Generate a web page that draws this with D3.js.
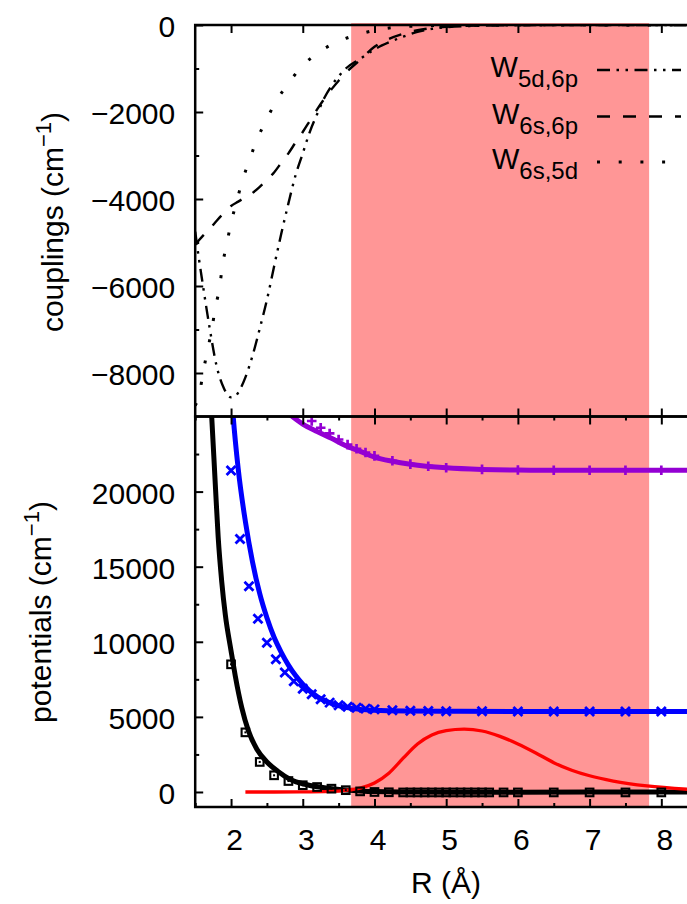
<!DOCTYPE html>
<html>
<head>
<meta charset="utf-8">
<script src="https://cdn.jsdelivr.net/npm/d3@7"></script>
<style>
  html, body { margin: 0; padding: 0; background: #fff; }
  svg { display: block; }
</style>
</head>
<body>
<svg id="chart" width="687" height="904"></svg>
<script>
// ---- Couplings W (cm^-1) as a function of R (Å) ----
const w5d6pR = [1.5, 1.55, 1.6, 1.7, 1.8, 1.9, 2.0, 2.05, 2.1, 2.2, 2.3, 2.4, 2.5, 2.6, 2.7, 2.8, 2.9, 3.0, 3.1, 3.2, 3.3, 3.4, 3.5, 3.6, 3.8, 4.0, 4.2, 4.4, 4.6, 4.8, 5.0, 5.5, 6.0, 7.0, 8.4];
const w5d6pV = [-4750, -5350, -5900, -6950, -7850, -8350, -8560, -8550, -8450, -8100, -7600, -6980, -6320, -5550, -4800, -4100, -3450, -2950, -2450, -2050, -1680, -1400, -1180, -1000, -780, -560, -400, -270, -160, -90, -50, -15, -5, 0, 0];

const w6s6pR = [1.5, 1.6, 1.7, 1.8, 1.9, 2.0, 2.1, 2.2, 2.3, 2.4, 2.5, 2.6, 2.7, 2.8, 2.9, 3.0, 3.1, 3.2, 3.3, 3.4, 3.5, 3.6, 3.8, 4.0, 4.2, 4.4, 4.6, 4.8, 5.0, 5.5, 6.0, 7.0, 8.4];
const w6s6pV = [-5050, -4860, -4690, -4500, -4320, -4160, -4060, -3960, -3860, -3720, -3560, -3390, -3170, -2950, -2700, -2460, -2200, -1940, -1700, -1480, -1280, -1100, -800, -500, -320, -200, -120, -70, -40, -12, -4, 0, 0];

const w6s5dR = [1.5, 1.56, 1.61, 1.67, 1.73, 1.78, 1.84, 1.88, 1.94, 2.0, 2.08, 2.15, 2.26, 2.36, 2.49, 2.63, 2.8, 2.99, 3.22, 3.49, 3.77, 4.03, 4.5, 5.0, 6.0, 8.4];
const w6s5dV = [-8750, -8470, -7990, -7490, -7010, -6510, -6030, -5530, -5030, -4550, -4050, -3620, -3090, -2640, -2190, -1750, -1340, -950, -630, -380, -220, -115, -30, -10, 0, 0];

// ---- Potentials (cm^-1) ----
// ground state: fitted curve and ab initio points
const groundR = [1.68, 1.73, 1.78, 1.82, 1.87, 1.92, 2.0, 2.06, 2.15, 2.24, 2.36, 2.5, 2.66, 2.82, 3.06, 3.3, 3.55, 3.8, 4.0, 4.5, 5.0, 6.0, 7.0, 8.4];
const groundV = [29000, 25000, 20500, 17000, 14000, 11800, 9400, 7700, 5600, 4100, 2850, 2000, 1350, 850, 480, 280, 150, 70, 30, 0, -20, -10, 0, 0];
const groundPtsR = [2.0, 2.2, 2.4, 2.6, 2.8, 3.0, 3.2, 3.4, 3.6, 3.8, 4.0, 4.2, 4.4, 4.5, 4.6, 4.7, 4.8, 4.9, 5.0, 5.1, 5.2, 5.3, 5.4, 5.5, 5.6, 5.8, 6.0, 6.5, 7.0, 7.5, 8.0];
const groundPtsV = [8500, 3970, 2000, 1110, 730, 450, 330, 220, 120, 40, 0, -20, -30, -30, -30, -30, -30, -30, -30, -30, -30, -30, -30, -30, -30, -30, -30, -30, -30, -30, -30];

// first excited state
const excR = [2.0, 2.03, 2.1, 2.2, 2.3, 2.4, 2.5, 2.6, 2.7, 2.8, 2.9, 3.0, 3.2, 3.4, 3.6, 3.8, 4.0, 4.5, 5.0, 6.0, 7.0, 8.4];
const excV = [27000, 25000, 21500, 18000, 15300, 13200, 11600, 10300, 9300, 8450, 7750, 7180, 6350, 5900, 5630, 5500, 5440, 5390, 5375, 5365, 5360, 5360];
const excPtsR = [2.0, 2.125, 2.25, 2.375, 2.5, 2.625, 2.75, 2.875, 3.0, 3.125, 3.25, 3.375, 3.5, 3.625, 3.75, 3.875, 4.0, 4.25, 4.5, 4.75, 5.0, 5.5, 6.0, 6.5, 7.0, 7.5, 8.0];
const excPtsV = [21400, 16850, 13700, 11540, 9940, 8830, 7950, 7380, 6880, 6500, 6170, 5950, 5770, 5680, 5610, 5550, 5500, 5440, 5410, 5390, 5380, 5370, 5365, 5360, 5360, 5360, 5360];

// upper state
const upperR = [2.8, 3.0, 3.2, 3.4, 3.6, 3.8, 4.0, 4.25, 4.5, 5.0, 5.5, 6.0, 7.0, 8.4];
const upperV = [25200, 24500, 24000, 23550, 23050, 22680, 22300, 22020, 21820, 21580, 21470, 21430, 21420, 21420];
const upperPtsR = [3.125, 3.25, 3.375, 3.5, 3.625, 3.75, 3.875, 4.0, 4.25, 4.5, 4.75, 5.0, 5.5, 6.0, 6.5, 7.0, 7.5, 8.0];
const upperPtsV = [24700, 24250, 23870, 23470, 23130, 22850, 22600, 22380, 22050, 21830, 21690, 21590, 21480, 21440, 21420, 21420, 21420, 21420];

// vibrational density (arbitrary scale)
const densR = [2.2, 2.6, 3.0, 3.4, 3.6, 3.8, 4.0, 4.2, 4.4, 4.6, 4.8, 5.0, 5.25, 5.5, 5.75, 6.0, 6.25, 6.5, 6.75, 7.0, 7.33, 7.8, 8.4];
const densV = [0, 0, 5, 40, 110, 260, 600, 1250, 2250, 3200, 3800, 4080, 4180, 4060, 3700, 3200, 2600, 1950, 1450, 1080, 730, 400, 170];

// highlighted R interval
const bandR = [3.675, 7.83];

// axis ticks
const rTicks = [2, 3, 4, 5, 6, 7, 8];
const rMinor = [1.5, 2.5, 3.5, 4.5, 5.5, 6.5, 7.5];
const coupTicks = [0, -2000, -4000, -6000, -8000];
const coupMinor = [-1000, -3000, -5000, -7000];
const potTicks = [0, 5000, 10000, 15000, 20000];
const potMinor = [2500, 7500, 12500, 17500, 22500];

const legendLabels = [["W", "5d,6p"], ["W", "6s,6p"], ["W", "6s,5d"]];

// ---- layout ----
const FONT = '"Liberation Sans", Arial, Helvetica, sans-serif';
const left = 195.2, right = 690;
const topY = 25, midY = 416.5, botY = 807;

const svg = d3.select("#chart").style("font-family", FONT);

const x = d3.scaleLinear().domain([1.5, 8.4]).range([left, right]);
const yTop = d3.scaleLinear().domain([-9000, 0]).range([midY, topY]);
const yBot = d3.scaleLinear().domain([-1000, 25000]).range([botY, midY]);

const defs = svg.append("defs");
defs.append("clipPath").attr("id", "clipTop").append("rect")
  .attr("x", left).attr("y", topY).attr("width", right - left).attr("height", midY - topY);
defs.append("clipPath").attr("id", "clipBot").append("rect")
  .attr("x", left).attr("y", midY).attr("width", right - left).attr("height", botY - midY);

// shaded interval across both panels
svg.append("rect")
  .attr("x", x(bandR[0])).attr("y", topY - 2)
  .attr("width", x(bandR[1]) - x(bandR[0]))
  .attr("height", botY - topY + 2)
  .attr("fill", "rgb(255,150,150)");

const zip = (a, b) => a.map((d, i) => [d, b[i]]);

function curve(g, scaleY, R, V, color, width, dash) {
  const line = d3.line().x(d => x(d[0])).y(d => scaleY(d[1])).curve(d3.curveMonotoneX);
  g.append("path").attr("d", line(zip(R, V)))
    .attr("fill", "none").attr("stroke", color).attr("stroke-width", width)
    .attr("stroke-linejoin", "round")
    .attr("stroke-dasharray", dash || null);
}

// ---- top panel: couplings ----
const gTop = svg.append("g").attr("clip-path", "url(#clipTop)");
const DASH_DDOT = "13,6.5,2.5,6.5,2.5,6.5";
const DASH = "13,13";
const DOTS = "3,18.7";
curve(gTop, yTop, w5d6pR, w5d6pV, "#000", 2.4, DASH_DDOT);
curve(gTop, yTop, w6s6pR, w6s6pV, "#000", 2.4, DASH);
curve(gTop, yTop, w6s5dR, w6s5dV, "#000", 3, DOTS);

// ---- bottom panel: potentials ----
const gBot = svg.append("g").attr("clip-path", "url(#clipBot)");
curve(gBot, yBot, groundR, groundV, "#000", 5);
curve(gBot, yBot, excR, excV, "#0000ff", 5);
curve(gBot, yBot, upperR, upperV, "#9400d3", 5);
curve(gBot, yBot, densR, densV, "#ff0000", 3.3);

// ab initio points
gBot.append("g").selectAll("g").data(zip(groundPtsR, groundPtsV)).join("g")
  .attr("transform", d => `translate(${x(d[0])},${yBot(d[1])})`)
  .each(function () {
    const s = d3.select(this);
    s.append("rect").attr("x", -3.8).attr("y", -3.8).attr("width", 7.6).attr("height", 7.6)
      .attr("fill", "none").attr("stroke", "#000").attr("stroke-width", 2.1);
    s.append("rect").attr("x", -1).attr("y", -1).attr("width", 2).attr("height", 2).attr("fill", "#000");
  });

gBot.append("g").selectAll("path").data(zip(excPtsR, excPtsV)).join("path")
  .attr("transform", d => `translate(${x(d[0])},${yBot(d[1])})`)
  .attr("d", "M-4.5,-4.5L4.5,4.5M-4.5,4.5L4.5,-4.5")
  .attr("stroke", "#0000ff").attr("stroke-width", 2.8).attr("fill", "none");

gBot.append("g").selectAll("path").data(zip(upperPtsR, upperPtsV)).join("path")
  .attr("transform", d => `translate(${x(d[0])},${yBot(d[1])})`)
  .attr("d", "M-4.8,0L4.8,0M0,-4.8L0,4.8")
  .attr("stroke", "#9400d3").attr("stroke-width", 2.7).attr("fill", "none");

// ---- frames ----
[[topY, midY], [midY, botY]].forEach(([a, b]) => {
  svg.append("rect").attr("x", left).attr("y", a).attr("width", right - left).attr("height", b - a)
    .attr("fill", "none").attr("stroke", "#000").attr("stroke-width", 2.5);
});

function styleAxis(g) {
  g.select(".domain").remove();
  g.selectAll(".tick line").attr("stroke", "#000").attr("stroke-width", 2);
  g.selectAll("text").attr("font-size", 30).attr("font-family", FONT).attr("fill", "#000");
}

// y axes
svg.append("g").attr("transform", `translate(${left},0)`)
  .call(d3.axisLeft(yTop).tickValues(coupTicks).tickFormat(d3.format("d"))
    .tickSizeInner(-8).tickSizeOuter(0).tickPadding(20))
  .call(styleAxis)
  .call(g => g.selectAll("text").attr("dy", "0.38em"));
svg.append("g").attr("transform", `translate(${left},0)`)
  .call(d3.axisLeft(yTop).tickValues(coupMinor).tickFormat("").tickSizeInner(-4).tickSizeOuter(0))
  .call(styleAxis);

svg.append("g").attr("transform", `translate(${left},0)`)
  .call(d3.axisLeft(yBot).tickValues(potTicks).tickFormat(d3.format("d"))
    .tickSizeInner(-8).tickSizeOuter(0).tickPadding(20))
  .call(styleAxis)
  .call(g => g.selectAll("text").attr("dy", "0.38em"));
svg.append("g").attr("transform", `translate(${left},0)`)
  .call(d3.axisLeft(yBot).tickValues(potMinor).tickFormat("").tickSizeInner(-4).tickSizeOuter(0))
  .call(styleAxis);

// x axes: top panel (major only, top and bottom edges)
svg.append("g").attr("transform", `translate(0,${topY})`)
  .call(d3.axisTop(x).tickValues(rTicks).tickFormat("").tickSizeInner(-8).tickSizeOuter(0))
  .call(styleAxis);
svg.append("g").attr("transform", `translate(0,${midY})`)
  .call(d3.axisBottom(x).tickValues(rTicks).tickFormat("").tickSizeInner(8).tickSizeOuter(0))
  .call(g => g.selectAll(".tick line").attr("y2", -8))
  .call(styleAxis);

// x axes: bottom panel
svg.append("g").attr("transform", `translate(0,${midY})`)
  .call(d3.axisTop(x).tickValues(rTicks).tickFormat("").tickSizeInner(-8).tickSizeOuter(0))
  .call(styleAxis);
svg.append("g").attr("transform", `translate(0,${midY})`)
  .call(d3.axisTop(x).tickValues(rMinor).tickFormat("").tickSizeInner(-4).tickSizeOuter(0))
  .call(styleAxis);
svg.append("g").attr("transform", `translate(0,${botY})`)
  .call(d3.axisBottom(x).tickValues(rTicks).tickFormat(d3.format("d"))
    .tickSizeInner(-8).tickSizeOuter(0))
  .call(styleAxis)
  .call(g => g.selectAll("text").attr("y", 43).attr("dy", 0).attr("dx", 3));
svg.append("g").attr("transform", `translate(0,${botY})`)
  .call(d3.axisBottom(x).tickValues(rMinor).tickFormat("").tickSizeInner(-4).tickSizeOuter(0))
  .call(styleAxis);

// ---- axis titles ----
function yTitle(cx, cy, label) {
  const t = svg.append("text")
    .attr("transform", `translate(${cx},${cy}) rotate(-90)`)
    .attr("text-anchor", "middle").attr("font-size", 30).attr("fill", "#000");
  t.append("tspan").text(label + " (cm");
  t.append("tspan").attr("dy", -12).attr("font-size", 22).text("\u22121");
  t.append("tspan").attr("dy", 12).text(")");
}
yTitle(63, 222, "couplings");
yTitle(51, 612, "potentials");

svg.append("text").attr("x", 446).attr("y", 893).attr("text-anchor", "middle")
  .attr("font-size", 30).attr("fill", "#000").text("R (\u00C5)");

// ---- legend ----
const legendY = [70, 116.5, 162];
const legendDash = [DASH_DDOT, DASH, DOTS];
const legendWidth = [2.4, 2.4, 3];
legendLabels.forEach((lab, i) => {
  const t = svg.append("text").attr("x", 578).attr("y", legendY[i] + 7)
    .attr("text-anchor", "end").attr("font-size", 29).attr("fill", "#000");
  t.append("tspan").text(lab[0]);
  t.append("tspan").attr("dy", 10).attr("font-size", 24).text(lab[1]);
  svg.append("line").attr("x1", 597).attr("x2", 681).attr("y1", legendY[i]).attr("y2", legendY[i])
    .attr("stroke", "#000").attr("stroke-width", legendWidth[i])
    .attr("stroke-dasharray", legendDash[i]);
});
</script>
</body>
</html>
